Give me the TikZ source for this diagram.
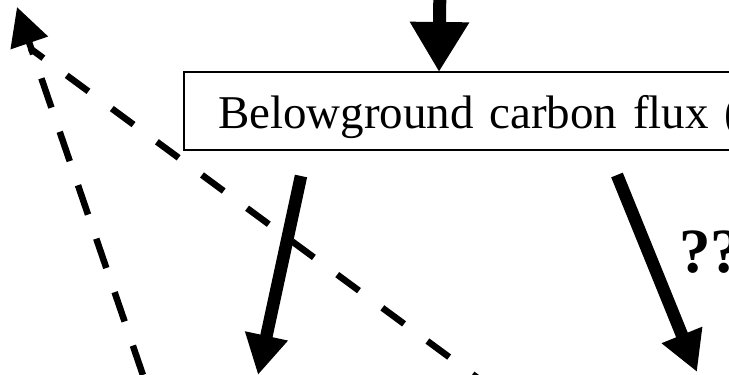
\documentclass[tikz,border=0pt]{standalone}
\usepackage{fontspec}
\setmainfont{Liberation Serif}
\usetikzlibrary{arrows.meta}
\tikzset{
  flowbox/.style={draw, line width=2pt, outer sep=0pt, inner ysep=0pt,
    inner xsep=34pt, text width=620pt, align=left, minimum height=78pt,
    text height=56pt, text depth=22pt, font=\fontsize{47}{56}\selectfont},
  bigflow/.style={line width=12.5pt, -{Triangle[length=40pt,width=41pt]}},
  topflow/.style={line width=13pt, -{Triangle[length=50pt,width=56pt]}},
  dashflow/.style={line width=6.5pt},
  qlabel/.style={inner sep=0pt, outer sep=0pt, font=\fontsize{63}{70}\selectfont\bfseries}
}
\begin{document}
\begin{tikzpicture}[x=1pt,y=-1pt]
  \useasboundingbox (0,0) rectangle (729,375);
  \clip (0,0) rectangle (729,375);
  % coordinates
  \coordinate (topstart) at (440,-20);
  \coordinate (a3s) at (301,176);
  \coordinate (a3e) at (258,375);
  \coordinate (a4s) at (617,175);
  \coordinate (a4e) at (697,372);
  \coordinate (d1s) at (161.2,428.4);
  \coordinate (d1tip) at (17,7);
  \coordinate (d2s) at (30,48.3);
  \coordinate (d2e) at (513,404.1);
  % box
  \node[flowbox, anchor=north west] (bcf) at (184,72) {Belowground carbon flux (};
  \node[qlabel, anchor=base west] (qq) at (679,272) {??};
  % solid arrows
  \draw[topflow] (topstart) -- (bcf.north -| 439,0);
  \draw[bigflow] (a3s) -- (a3e);
  \draw[bigflow] (a4s) -- (a4e);
  % dashed arrows
  \draw[dashflow, dash pattern=on 27pt off 29pt, dash phase=10.4pt] (d2s) -- (d2e);
  \draw[dashflow, dash pattern=on 31pt off 25.5pt, -{Triangle[length=38pt,width=38pt]}] (d1s) -- (d1tip);
\end{tikzpicture}
\end{document}
